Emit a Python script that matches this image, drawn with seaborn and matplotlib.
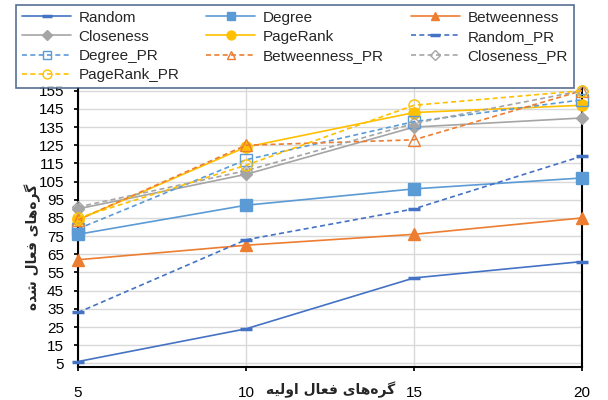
import matplotlib
matplotlib.use("Agg")
import matplotlib.pyplot as plt
import seaborn as sns
import pandas as pd

# Initial active nodes (x) and activated nodes per strategy (y)
initial_nodes = [5, 10, 15, 20]
random_vals = [6, 24, 52, 61]
degree_vals = [76, 92, 101, 107]
betweenness_vals = [62, 70, 76, 85]
closeness_vals = [90, 109, 135, 140]
pagerank_vals = [84, 124, 143, 147]
random_pr_vals = [33, 73, 90, 119]
degree_pr_vals = [79, 117, 138, 150]
betweenness_pr_vals = [84, 125, 128, 155]
closeness_pr_vals = [91, 111, 137, 155]
pagerank_pr_vals = [85, 114, 147, 155]

series_names = ["Random", "Degree", "Betweenness", "Closeness", "PageRank",
                "Random_PR", "Degree_PR", "Betweenness_PR", "Closeness_PR", "PageRank_PR"]
series_vals = [random_vals, degree_vals, betweenness_vals, closeness_vals, pagerank_vals,
               random_pr_vals, degree_pr_vals, betweenness_pr_vals, closeness_pr_vals,
               pagerank_pr_vals]
y_ticks = list(range(5, 156, 10))

# Persian axis titles, pre-shaped (presentation forms, visual order)
x_title = "\uFEEA\uFBFF\uFEDF\uFEED\uFE8D \uFEDD\uFE8E\uFECC\uFED3 \uFBFC\uFE8E\uFEEB\u200C\uFEE9\uFEAE\uFB94"
y_title = "\uFEE9\uFEAA\uFEB7 \uFEDD\uFE8E\uFECC\uFED3 \uFBFC\uFE8E\uFEEB\u200C\uFEE9\uFEAE\uFB94"

sns.set_theme(style="white")
plt.rcParams["font.family"] = ["Liberation Sans", "DejaVu Sans"]

colors = {"Random": "#4472C4", "Degree": "#5B9BD5", "Betweenness": "#ED7D31",
          "Closeness": "#A5A5A5", "PageRank": "#FFC000"}
markers = {"Random": "_", "Degree": "s", "Betweenness": "^",
           "Closeness": "D", "PageRank": "o"}
msizes = {"Random": 9, "Degree": 8, "Betweenness": 8, "Closeness": 6.5, "PageRank": 8}

fig = plt.figure(figsize=(6.08, 4.0), dpi=100)
ax = fig.add_axes([78 / 608, 1 - 367 / 400, (582 - 78) / 608, (367 - 88) / 400])

for name, vals in zip(series_names, series_vals):
    base = name.replace("_PR", "")
    dashed = name.endswith("_PR")
    df = pd.DataFrame({"x": initial_nodes, "y": vals})
    sns.lineplot(data=df, x="x", y="y", ax=ax, color=colors[base],
                 linewidth=1.2, marker=markers[base], markersize=msizes[base],
                 markerfacecolor=("none" if (dashed and base != "Random") else colors[base]),
                 markeredgecolor=colors[base],
                 markeredgewidth=(2.5 if base == "Random" else 1.0),
                 linestyle=(0, (3, 2)) if dashed else "-",
                 label=name, clip_on=False, zorder=3)

handles, labels = ax.get_legend_handles_labels()
if ax.get_legend() is not None:
    ax.get_legend().remove()

ax.set_xlim(5, 20)
ax.set_ylim(3, 156.5)
ax.set_xticks(initial_nodes)
ax.set_yticks(y_ticks)
ax.set_xlabel("")
ax.set_ylabel("")
ax.grid(True, color="#D9D9D9", linewidth=1.0)
ax.set_axisbelow(True)
for side in ["left", "right", "bottom"]:
    ax.spines[side].set_color("black")
    ax.spines[side].set_linewidth(1.5)
ax.spines["top"].set_visible(False)
ax.tick_params(axis="x", labelsize=11, pad=11, length=3, colors="black", direction="out")
ax.tick_params(axis="y", labelsize=11, pad=7, length=3, colors="black", direction="out")
ax.tick_params(bottom=True, left=True)

fig.text(331 / 608, 1 - 390 / 400, x_title, ha="center", va="center",
         fontsize=10, fontweight="bold", family="DejaVu Sans")
fig.text(33 / 608, 1 - 247 / 400, y_title, ha="center", va="center", rotation=90,
         fontsize=10, fontweight="bold", family="DejaVu Sans")

# Legend entries laid out row by row across three columns
order = ["Random", "Closeness", "Degree_PR", "PageRank_PR",
         "Degree", "PageRank", "Betweenness_PR",
         "Betweenness", "Random_PR", "Closeness_PR"]
lookup = dict(zip(labels, handles))
leg = fig.legend([lookup[n] for n in order], order, ncol=3, loc="lower left",
                 bbox_to_anchor=(16 / 608, 1 - 88 / 400, (574 - 16) / 608, 83 / 400),
                 mode="expand", fontsize=11, frameon=True, fancybox=False,
                 handlelength=3.2, handletextpad=0.5, borderaxespad=0.0,
                 labelspacing=0.33, borderpad=0.4, columnspacing=1.0, markerscale=0.8)
leg.get_frame().set_edgecolor("#2F4A7A")
leg.get_frame().set_linewidth(1.2)

fig.savefig("out.png", dpi=100)
